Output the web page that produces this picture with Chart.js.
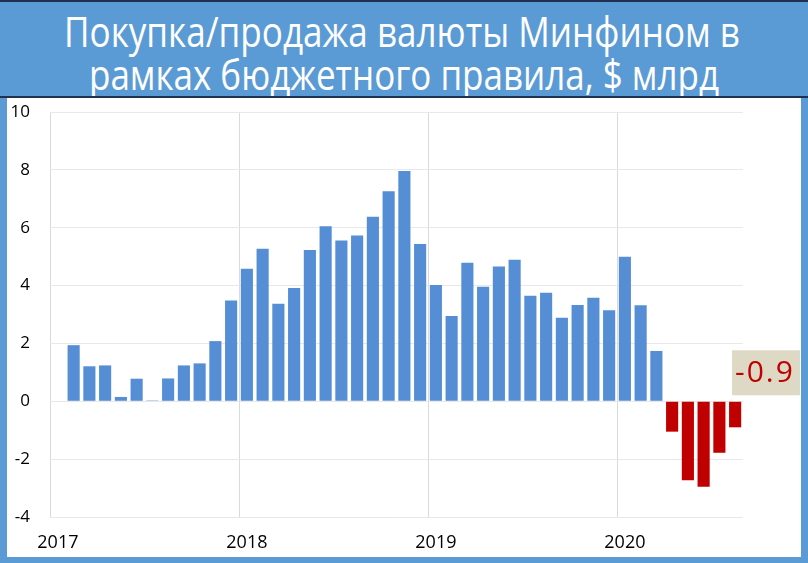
<!DOCTYPE html>
<html>
<head>
<meta charset="utf-8">
<script src="https://cdn.jsdelivr.net/npm/chart.js@4"></script>
<style>
  html, body { margin: 0; padding: 0; }
  body {
    width: 808px; height: 563px; overflow: hidden; position: relative;
    background: #5b9bd5; font-family: "Open Sans", sans-serif;
  }
  #topLine { position: absolute; left: 0; top: 0; width: 808px; height: 2px; background: #1f3050; }
  #bandLine { position: absolute; left: 0; top: 96px; width: 808px; height: 2px; background: #1f3050; }
  .title {
    position: absolute; white-space: nowrap; color: #fff;
    font-size: 42px; line-height: 42px; transform-origin: left center;
  }
  #panel {
    position: absolute; left: 7px; top: 98px; width: 794px; height: 459px;
    background: #fff;
  }
  #panel canvas { position: absolute; left: 0; top: 1px; }
</style>
</head>
<body>
<div id="topLine"></div>
<div class="title" id="t1" data-left="64" data-width="676" style="top:10px">Покупка/продажа валюты Минфином в</div>
<div class="title" id="t2" data-left="89" data-width="630" style="top:53px">рамках бюджетного правила, $ млрд</div>
<div id="bandLine"></div>
<div id="panel"><canvas id="chart" width="794" height="458"></canvas></div>
<script>
const years = ["2017", "2018", "2019", "2020"];
const months = ["янв", "фев", "мар", "апр", "май", "июн", "июл", "авг", "сен", "окт", "ноя", "дек"];

const values2017 = [null, 1.94, 1.21, 1.24, 0.15, 0.78, 0.03, 0.79, 1.24, 1.31, 2.08, 3.48];
const values2018 = [4.58, 5.27, 3.37, 3.92, 5.23, 6.05, 5.56, 5.73, 6.38, 7.26, 7.96, 5.44];
const values2019 = [4.02, 2.95, 4.79, 3.96, 4.66, 4.89, 3.65, 3.75, 2.89, 3.33, 3.58, 3.15];
const values2020 = [5.0, 3.32, 1.74, -1.05, -2.73, -2.95, -1.78, -0.9];

const yTicks = [-4, -2, 0, 2, 4, 6, 8, 10];
const lastLabel = "-0.9";

const series = [values2017, values2018, values2019, values2020];
const labels = [];
const values = [];
series.forEach((arr, yi) => {
  arr.forEach((v, mi) => {
    labels.push(months[mi] + " " + years[yi]);
    values.push(v);
  });
});

// fit title lines to the reference widths
document.querySelectorAll(".title").forEach((el) => {
  const w = el.getBoundingClientRect().width;
  const target = Number(el.dataset.width);
  el.style.left = el.dataset.left + "px";
  el.style.transform = `scaleX(${target / w})`;
});

const BLUE = "#558ed5";
const RED = "#c00000";

const lastValueBox = {
  id: "lastValueBox",
  afterDraw(chart) {
    const { ctx, scales } = chart;
    const i = values.length - 1;
    const meta = chart.getDatasetMeta(0).data[i];
    const left = meta.x - meta.width / 2 + 3;
    const bottom = scales.y.getPixelForValue(0) - 6;
    const w = 68, h = 45;
    ctx.save();
    ctx.fillStyle = "#ddd9c4";
    ctx.fillRect(left, bottom - h, w, h);
    ctx.fillStyle = RED;
    ctx.font = '30px "Open Sans"';
    ctx.letterSpacing = "2px";
    ctx.textAlign = "left";
    ctx.textBaseline = "middle";
    ctx.fillText(lastLabel, left + 3, bottom - h / 2 + 1);
    ctx.restore();
  },
};

new Chart(document.getElementById("chart"), {
  type: "bar",
  data: {
    labels,
    datasets: [{
      data: values,
      backgroundColor: (c) => (c.raw < 0 ? RED : BLUE),
      barPercentage: 0.77,
      categoryPercentage: 1,
      borderWidth: 0,
    }],
  },
  options: {
    responsive: false,
    devicePixelRatio: 1,
    animation: false,
    layout: { autoPadding: false, padding: { left: 0, top: 13, right: 58, bottom: 0 } },
    plugins: { legend: { display: false }, tooltip: { enabled: false } },
    scales: {
      x: {
        grid: {
          offset: true,
          drawTicks: false,
          color: (c) => (c.index % 12 === 0 ? "#dadada" : "rgba(0,0,0,0)"),
        },
        border: { display: false },
        ticks: {
          autoSkip: false,
          maxRotation: 0,
          padding: 15,
          color: "#000",
          font: { family: "Open Sans", size: 18 },
          callback: (v, i) => (i % 12 === 0 ? years[i / 12] : ""),
        },
        afterFit: (s) => { s.height = 40; s.paddingLeft = 0; s.paddingRight = 0; },
      },
      y: {
        min: yTicks[0],
        max: yTicks[yTicks.length - 1],
        afterBuildTicks: (s) => { s.ticks = yTicks.map((v) => ({ value: v })); },
        grid: { drawTicks: false, color: "#e8e8e8" },
        border: { display: false },
        ticks: {
          padding: 20,
          color: "#000",
          font: { family: "Open Sans", size: 17 },
        },
        afterFit: (s) => { s.width = 43; s.paddingTop = 0; s.paddingBottom = 0; },
      },
    },
  },
  plugins: [lastValueBox],
});
</script>
</body>
</html>
